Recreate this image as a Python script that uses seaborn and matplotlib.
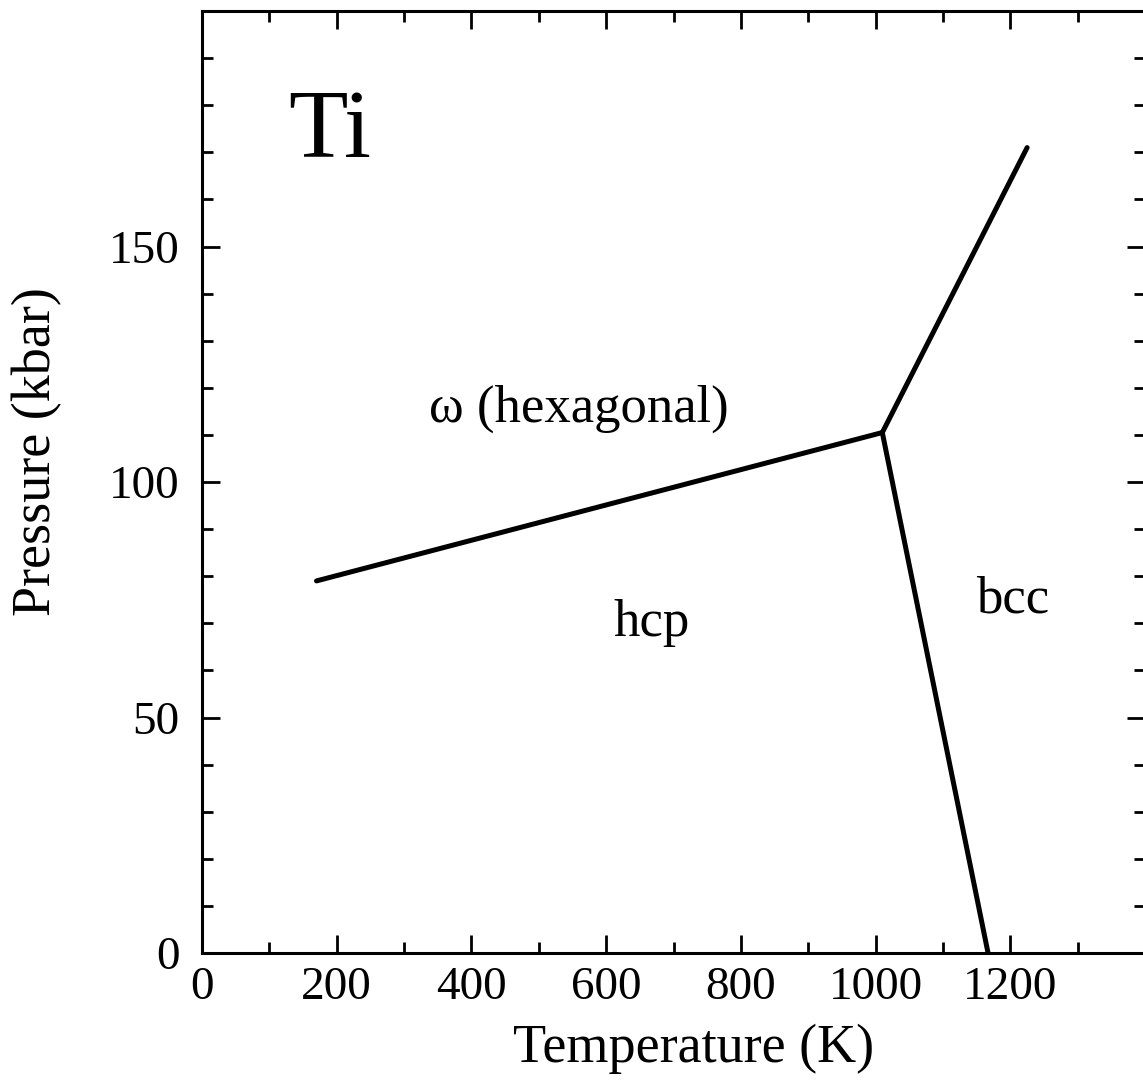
import matplotlib
matplotlib.use("Agg")
import matplotlib.pyplot as plt
import seaborn as sns
import pandas as pd
from matplotlib.ticker import MultipleLocator, FixedLocator

# Phase boundary data (Temperature K, Pressure kbar)
hcp_omega_T = [170, 1010]
hcp_omega_P = [79, 110.5]
omega_bcc_T = [1010, 1225]
omega_bcc_P = [110.5, 171]
hcp_bcc_T = [1010, 1167]
hcp_bcc_P = [110.5, 0]

phase_labels = ["Ti", "ω (hexagonal)", "hcp", "bcc"]
label_T = [190, 560, 668, 1203]
label_P = [174, 115.5, 70, 75]

x_ticks = [0, 200, 400, 600, 800, 1000, 1200]
y_ticks = [0, 50, 100, 150]

sns.set_theme(style="ticks")
plt.rcParams['font.family'] = ['Liberation Serif', 'DejaVu Serif']
plt.rcParams['text.color'] = 'black'
plt.rcParams['axes.labelcolor'] = 'black'

fig = plt.figure(figsize=(11.43, 10.8), dpi=100)
ax = fig.add_axes([202/1143, 127/1080, (1145-202)/1143, (953-11)/1080])

segs = []
for name, T, P in [("a", hcp_omega_T, hcp_omega_P),
                   ("b", omega_bcc_T, omega_bcc_P),
                   ("c", hcp_bcc_T, hcp_bcc_P)]:
    segs.append(pd.DataFrame({"T": T, "P": P, "seg": name}))
df = pd.concat(segs, ignore_index=True)
sns.lineplot(data=df, x="T", y="P", units="seg", estimator=None, sort=False,
             color="black", linewidth=3.6, ax=ax, legend=False)

ax.set_xlim(0, 1400)
ax.set_ylim(0, 200)
ax.xaxis.set_major_locator(FixedLocator(x_ticks))
ax.yaxis.set_major_locator(FixedLocator(y_ticks + [200]))
ax.set_yticklabels([str(t) for t in y_ticks] + [""])
ax.xaxis.set_minor_locator(MultipleLocator(100))
ax.yaxis.set_minor_locator(MultipleLocator(10))

ax.tick_params(which="both", direction="in", top=True, right=True, colors="black")
ax.tick_params(which="major", length=13, width=2)
ax.tick_params(which="minor", length=8, width=2)
ax.tick_params(axis="x", which="major", labelsize=34, pad=10)
ax.tick_params(axis="y", which="major", labelsize=34, pad=16)
for s in ax.spines.values():
    s.set_linewidth(2.2)
    s.set_color("black")

ax.set_xlabel("Temperature (K)", fontsize=39, color="black")
ax.set_ylabel("Pressure (kbar)", fontsize=39, color="black")
ax.xaxis.set_label_coords(0.521, -0.075)
ax.yaxis.set_label_coords(-0.148, 0.532)

sizes = [70, 38, 38, 38]
for lab, t, p, s in zip(phase_labels, label_T, label_P, sizes):
    ax.text(t, p, lab, fontsize=s, ha="center", va="center", color="black")

fig.savefig("out.png", dpi=100)
